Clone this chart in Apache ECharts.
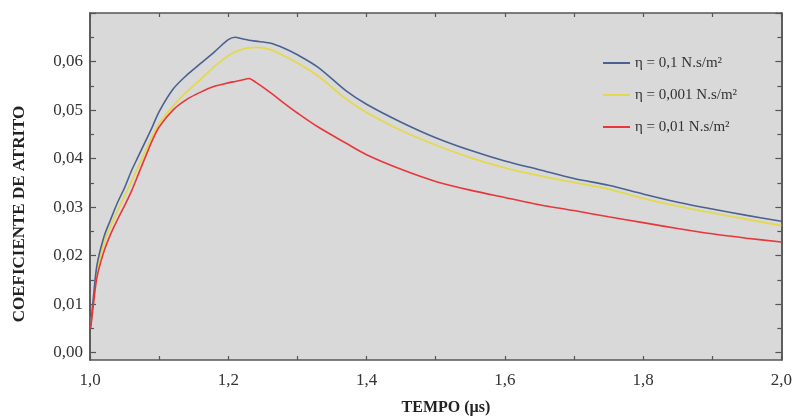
<!DOCTYPE html>
<html>
<head>
<meta charset="utf-8">
<script src="https://cdn.jsdelivr.net/npm/echarts@6/dist/echarts.min.js"></script>
<style>
  html, body { margin: 0; padding: 0; background: #fff; }
  #chart { width: 795px; height: 417px; }
</style>
</head>
<body>
<div id="chart"></div>
<script>
// tempo (µs)
const tempo = [1.001, 1.005, 1.01, 1.02, 1.03, 1.04, 1.05, 1.06, 1.07, 1.08, 1.09, 1.10,
  1.12, 1.14, 1.16, 1.18, 1.20, 1.21, 1.22, 1.23, 1.24, 1.26, 1.28, 1.30, 1.33, 1.37,
  1.40, 1.45, 1.50, 1.55, 1.60, 1.65, 1.70, 1.75, 1.80, 1.85, 1.90, 1.95, 2.00];

// coeficiente de atrito, eta = 0,1
const eta01 = [0.0055, 0.0115, 0.0180, 0.0238, 0.0275, 0.0310, 0.0340, 0.0375, 0.0405, 0.0435, 0.0465, 0.0497,
  0.0543, 0.0572, 0.0596, 0.0620, 0.0645, 0.0650, 0.0647, 0.0644, 0.0642, 0.0638, 0.0628, 0.0614, 0.0588, 0.0540,
  0.0512, 0.0475, 0.0443, 0.0417, 0.0395, 0.0377, 0.0359, 0.0345, 0.0327, 0.0310, 0.0296, 0.0283, 0.0271];

// eta = 0,001
const eta0001 = [0.0053, 0.0107, 0.0168, 0.0225, 0.0262, 0.0293, 0.0323, 0.0353, 0.0384, 0.0415, 0.0445, 0.0472,
  0.0508, 0.0538, 0.0563, 0.0590, 0.0612, 0.0620, 0.0625, 0.0628, 0.0629, 0.0625, 0.0612, 0.0597, 0.0570, 0.0523,
  0.0495, 0.0458, 0.0428, 0.0402, 0.0381, 0.0365, 0.0351, 0.0337, 0.0318, 0.0302, 0.0288, 0.0275, 0.0262];

// eta = 0,01
const eta001 = [0.0050, 0.0100, 0.0155, 0.0208, 0.0245, 0.0275, 0.0303, 0.0333, 0.0368, 0.0403, 0.0437, 0.0465,
  0.0500, 0.0522, 0.0537, 0.0549, 0.0556, 0.0559, 0.0562, 0.0565, 0.0557, 0.0537, 0.0515, 0.0494, 0.0465, 0.0432,
  0.0408, 0.0378, 0.0353, 0.0335, 0.0320, 0.0305, 0.0293, 0.0280, 0.0268, 0.0256, 0.0245, 0.0236, 0.0228];

const yLabels = [0, 0.01, 0.02, 0.03, 0.04, 0.05, 0.06];
const yMajor = [0, 0.01, 0.02, 0.03, 0.04, 0.05, 0.06, 0.07];
const yMinor = [0.005, 0.015, 0.025, 0.035, 0.045, 0.055, 0.065];

const pairs = (vals) => tempo.map((t, i) => [t, vals[i]]);

const serif = 'Liberation Serif';
const axisColor = '#555';

function yAxisDef(pos, ticks, len, labels) {
  return {
    type: 'value', position: pos, min: -0.0015, max: 0.07,
    axisLine: { show: true, onZero: false, lineStyle: { color: axisColor, width: 1.5 } },
    axisTick: { show: true, inside: true, length: len, customValues: ticks, lineStyle: { color: axisColor, width: 1.2 } },
    axisLabel: labels ? {
      show: true, customValues: yLabels, margin: 7, color: '#333', fontFamily: serif, fontSize: 17,
      formatter: v => v.toFixed(2).replace('.', ',')
    } : { show: false },
    splitLine: { show: false }
  };
}

function xAxisDef(pos, labels) {
  return {
    type: 'value', position: pos, min: 1.0, max: 2.0, interval: 0.1,
    axisLine: { show: true, onZero: false, lineStyle: { color: axisColor, width: 1.5 } },
    axisTick: { show: true, inside: true, length: 4, lineStyle: { color: axisColor, width: 1.2 } },
    axisLabel: labels ? {
      show: true, margin: 12, color: '#333', fontFamily: serif, fontSize: 17,
      formatter: v => (Math.round(v * 10) % 2 === 0 ? v.toFixed(1).replace('.', ',') : '')
    } : { show: false },
    splitLine: { show: false }
  };
}

const chart = echarts.init(document.getElementById('chart'));
chart.setOption({
  animation: false,
  grid: { left: 90, right: 8, top: 13, bottom: 57, show: true, backgroundColor: '#d9d9d9', borderWidth: 0 },
  xAxis: [xAxisDef('bottom', true), xAxisDef('top', false)],
  yAxis: [
    yAxisDef('left', yMajor, 6, true),
    yAxisDef('left', yMinor, 4, false),
    yAxisDef('right', yMajor, 6, false),
    yAxisDef('right', yMinor, 4, false)
  ],
  legend: {
    orient: 'vertical', left: 598, top: 49, icon: 'rect', itemWidth: 27, itemHeight: 2, itemGap: 14,
    textStyle: { fontFamily: serif, fontSize: 15, color: '#333', lineHeight: 18 },
    data: ['η = 0,1 N.s/m²', 'η = 0,001 N.s/m²', 'η = 0,01 N.s/m²']
  },
  graphic: [
    {
      type: 'text', x: 20, y: 214, rotation: Math.PI / 2,
      style: { text: 'COEFICIENTE DE ATRITO', fontFamily: serif, fontWeight: 'bold', fontSize: 17,
        fill: '#222', align: 'center', verticalAlign: 'middle' }
    },
    {
      type: 'text', x: 446, y: 408,
      style: { text: 'TEMPO (µs)', fontFamily: serif, fontWeight: 'bold', fontSize: 16,
        fill: '#222', align: 'center', verticalAlign: 'middle' }
    }
  ],
  series: [
    { name: 'η = 0,1 N.s/m²', type: 'line', data: pairs(eta01), smooth: 0.3, symbol: 'none',
      lineStyle: { color: '#4a6291', width: 1.6 }, itemStyle: { color: '#4a6291' }, z: 3 },
    { name: 'η = 0,001 N.s/m²', type: 'line', data: pairs(eta0001), smooth: 0.3, symbol: 'none',
      lineStyle: { color: '#e3d94e', width: 1.8 }, itemStyle: { color: '#e3d94e' }, z: 2 },
    { name: 'η = 0,01 N.s/m²', type: 'line', data: pairs(eta001), smooth: 0.3, symbol: 'none',
      lineStyle: { color: '#e8363c', width: 1.6 }, itemStyle: { color: '#e8363c' }, z: 4 }
  ]
});
</script>
</body>
</html>
